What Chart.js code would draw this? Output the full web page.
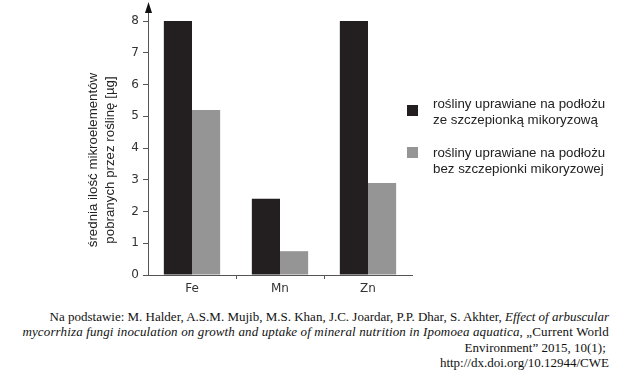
<!DOCTYPE html>
<html lang="pl">
<head>
<meta charset="UTF-8">
<title>Mikroelementy</title>
<style>
  body { margin: 0; background: #fff; width: 631px; height: 373px; position: relative; overflow: hidden; }
  #wrap { position: absolute; left: 0; top: 0; width: 631px; height: 300px; }
  .leg { position: absolute; left: 407px; font: 13.3px "Liberation Sans", Arial, sans-serif; color: #222; line-height: 15.5px; }
  .leg span { position: absolute; left: 0; width: 11px; height: 11px; }
  .leg div { position: absolute; left: 26px; white-space: nowrap; }
  #src { position: absolute; right: 22px; top: 309px; text-align: right; font: 13px "Liberation Serif", "Times New Roman", serif; line-height: 15.3px; color: #111; white-space: nowrap; }
  #src .l2 { letter-spacing: 0.14px; }
</style>
</head>
<body>
<div id="wrap"><canvas id="myChart"></canvas></div>

<div class="leg" style="top:105px"><span style="background:#231f20"></span><div style="top:-9px">rośliny uprawiane na podłożu<br>ze szczepionką mikoryzową</div></div>
<div class="leg" style="top:147px"><span style="background:#959595"></span><div style="top:-2px">rośliny uprawiane na podłożu<br>bez szczepionki mikoryzowej</div></div>

<div id="src">Na podstawie: M. Halder, A.S.M. Mujib, M.S. Khan, J.C. Joardar, P.P. Dhar, S. Akhter, <i>Effect of arbuscular</i><br><span class="l2"><i>mycorrhiza fungi inoculation on growth and uptake of mineral nutrition in Ipomoea aquatica</i>, „Current World</span><br>Environment” 2015, 10(1);&nbsp;<br>http://dx.doi.org/10.12944/CWE</div>

<script src="https://cdn.jsdelivr.net/npm/chart.js"></script>
<script>
  const elements = ['Fe', 'Mn', 'Zn']
  const withInoculum = [8, 2.4, 8]
  const withoutInoculum = [5.2, 0.75, 2.9]
  const yTicks = [0, 1, 2, 3, 4, 5, 6, 7, 8]
  const yTitle = ['średnia ilość mikroelementów', 'pobranych przez roślinę [µg]']

  const axisColor = '#555'
  const tickFont = { family: 'DejaVu Sans', size: 12 }

  // y axis arrow + rotated title
  const extras = {
    id: 'extras',
    afterDraw(chart) {
      const ctx = chart.ctx
      const a = chart.chartArea
      const x = chart.scales.x.left + 0.5
      ctx.save()
      ctx.strokeStyle = axisColor
      ctx.lineWidth = 1
      ctx.beginPath()
      ctx.moveTo(x, a.top)
      ctx.lineTo(x, 10)
      ctx.stroke()
      ctx.fillStyle = '#111'
      ctx.beginPath()
      ctx.moveTo(x, 2)
      ctx.lineTo(x - 3.5, 13)
      ctx.lineTo(x + 3.5, 13)
      ctx.closePath()
      ctx.fill()

      ctx.translate(0, 160)
      ctx.rotate(-Math.PI / 2)
      ctx.fillStyle = '#222'
      ctx.font = '13.3px "Liberation Sans", Arial, sans-serif'
      ctx.textAlign = 'center'
      ctx.textBaseline = 'middle'
      ctx.fillText(yTitle[0], 0, 93)
      ctx.fillText(yTitle[1], 0, 110)
      ctx.restore()
    }
  }

  new Chart(document.getElementById('myChart'), {
    type: 'bar',
    data: {
      labels: elements,
      datasets: [
        { label: 'ze szczepionką', data: withInoculum, backgroundColor: '#231f20' },
        { label: 'bez szczepionki', data: withoutInoculum, backgroundColor: '#959595' }
      ]
    },
    options: {
      responsive: true,
      maintainAspectRatio: false,
      animation: false,
      categoryPercentage: 0.64,
      barPercentage: 1,
      layout: { padding: { left: 0, top: 21, right: 219, bottom: 0 } },
      plugins: { legend: { display: false }, tooltip: { enabled: false } },
      scales: {
        x: {
          afterFit: s => { s.height = 25 },
          grid: {
            drawOnChartArea: false,
            tickLength: 4,
            color: c => (c.index > 0 && c.index < elements.length) ? axisColor : 'rgba(0,0,0,0)'
          },
          border: { color: axisColor },
          ticks: { color: '#333', font: tickFont, padding: 3 }
        },
        y: {
          min: 0,
          max: 8,
          afterFit: s => { s.width = 148 },
          afterBuildTicks: s => { s.ticks = yTicks.map(v => ({ value: v })) },
          grid: { drawOnChartArea: false, tickLength: 5, color: axisColor },
          border: { color: axisColor },
          ticks: { color: '#333', font: tickFont, padding: 4 }
        }
      }
    },
    plugins: [extras]
  })
</script>
</body>
</html>
